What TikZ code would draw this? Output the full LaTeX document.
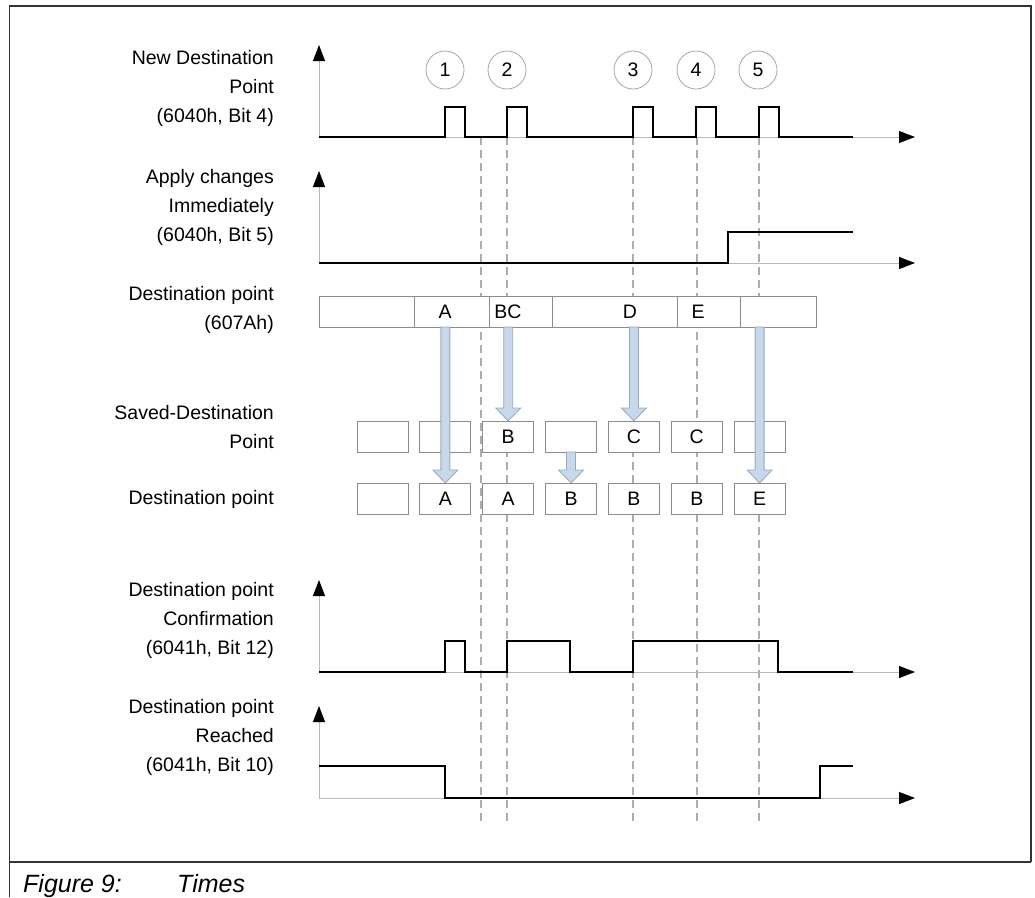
\documentclass[tikz,border=0pt]{standalone}
\usepackage{fontspec}
\setmainfont{Liberation Sans}
\usetikzlibrary{arrows.meta,calc}
\definecolor{pale}{RGB}{200,216,232}
\definecolor{paleline}{RGB}{146,170,194}
\tikzset{
  every picture/.style={font=\fontsize{19.5}{29}\selectfont},
  axis/.style={draw=black!28,line width=0.9pt},
  axtip/.style={-{Triangle[length=16pt,width=12pt,color=black]}},
  sig/.style={line width=2pt},
  timeline/.style={draw=black!32,line width=1.2pt,dash pattern=on 8pt off 5pt},
  evt/.style={circle,draw=black!35,line width=0.8pt,minimum size=38pt,inner sep=0pt},
  lbl/.style={anchor=east,align=right,inner sep=0pt},
  barseg/.style={draw=black!45,fill=white,line width=0.9pt,minimum height=31pt,inner sep=0pt,outer sep=0pt},
  slot/.style={barseg,minimum width=51pt},
  blk/.style={draw=paleline,fill=pale,line width=0.8pt},
  capt/.style={font=\fontsize{25}{30}\selectfont\itshape,inner sep=0pt,anchor=base west},
}
% shaft from #1 down to the tip at #2
\newcommand\blockarrow[2]{%
  \path[blk] let \p1=(#1), \p2=(#2) in
    (\x2-4.5pt,\y1) -- (\x2-4.5pt,\y2+13pt) -- (\x2-12.5pt,\y2+13pt) -- (\x2,\y2)
    -- (\x2+12.5pt,\y2+13pt) -- (\x2+4.5pt,\y2+13pt) -- (\x2+4.5pt,\y1) -- cycle;}

\begin{document}
\begin{tikzpicture}[x=1pt,y=-1pt]
  \useasboundingbox (0,0) rectangle (1035,897);
  % frame and caption
  \draw[black!80,line width=1.6pt] (9.5,897) -- (9.5,6) -- (1031,6) -- (1031,862);
  \draw[black!80,line width=1.6pt] (9.5,862) -- (1031,862);
  \node[capt] (fig) at (23,892) {Figure 9:};
  \node[capt] (ttl) at (177,892) {Times};

  % time marks
  \foreach \t in {481,507,633,697,759}
    \draw[timeline] (\t,137) -- (\t,822);

  % axes
  \foreach \r/\b in {nd/137,ap/263,cf/672,rc/798}{
    \coordinate (o\r) at (319,\b);
    \coordinate (y\r) at (319,\b-92);
    \coordinate (x\r) at (915,\b);
    \draw[axis,axtip] (o\r) -- (y\r);
    \draw[axis,axtip] (o\r) -- (x\r);
  }

  % signals
  \draw[sig] (ond) foreach \t in {445,507,633,696,759} {-| (\t,107) -| (\t+20,137)} -- (853,137);
  \draw[sig] (oap) -| (728,232) -- (853,232);
  \draw[sig] (ocf) -| (445,641) -| (465,672) -| (507,641) -| (570,672) -| (633,641) -| (778,672) -- (853,672);
  \draw[sig] (319,766) -| (445,798) -| (820,766) -- (853,766);

  \foreach \t [count=\n] in {445,507,633,696,758}
    \node[evt] (c\n) at (\t,70) {\n};

  % row titles
  \node[lbl] (tnd) at (274,88) {New Destination\\Point\\(6040h, Bit 4)};
  \node[lbl] (tap) at (274,207) {Apply changes\\Immediately\\(6040h, Bit 5)};
  \node[lbl] (tdp) at (274,310) {Destination point\\(607Ah)};
  \node[lbl] (tsv) at (274,427) {Saved-Destination\\Point};
  \node[lbl] (tlo) at (274,499) {Destination point};
  \node[lbl] (tcf) at (274,620) {Destination point\\Confirmation\\(6041h, Bit 12)};
  \node[lbl] (trc) at (274,737) {Destination point\\Reached\\(6041h, Bit 10)};

  % 607Ah bar
  \foreach \a/\b [count=\k from 0] in {319/414,414/489,489/552,552/677,677/740,740/816}
    \node[barseg,minimum width=\b-\a] (seg\k) at ({(\a+\b)/2},311.5) {};
  \foreach \t/\s in {445/A,508/BC,630/D,698/E}
    \node (v\s) at (\t,312) {\s};

  % saved and current destination
  \foreach \i/\s/\d in {1/{}/{},2/{}/A,3/B/A,4/{}/B,5/C/B,6/C/B,7/{}/E}{
    \node[slot] (sv\i) at (319.65+62.85*\i,436.5) {\s};
    \node[slot] (lo\i) at (319.65+62.85*\i,498.5) {\d};
  }

  \blockarrow{seg1.south -| lo2.north}{lo2.north}
  \blockarrow{seg2.south -| sv3.north}{sv3.north}
  \blockarrow{sv4.south}{lo4.north}
  \blockarrow{seg3.south -| sv5.north}{sv5.north}
  \blockarrow{seg5.south -| lo7.north}{lo7.north}
\end{tikzpicture}
\end{document}
